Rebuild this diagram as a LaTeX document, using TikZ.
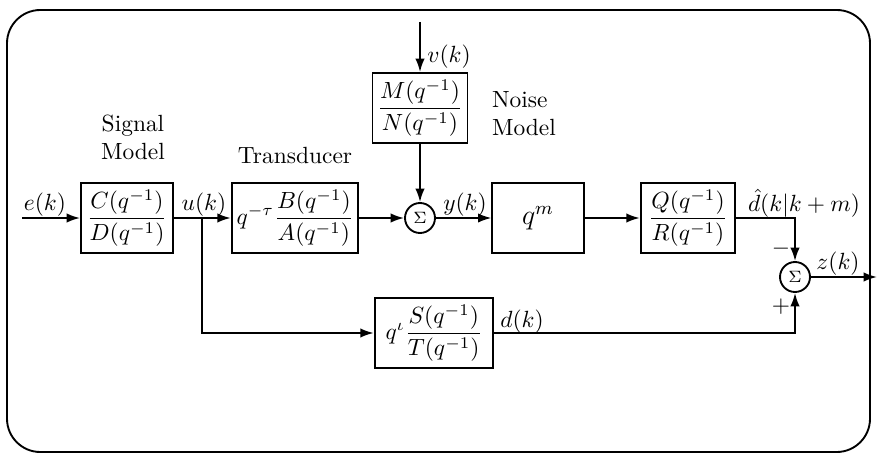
\documentclass[tikz,border=0pt]{standalone}
\usepackage{amsmath, amssymb}
\usetikzlibrary{arrows.meta, positioning, calc}

\begin{document}
\begin{tikzpicture}[x=0.015cm, y=-0.015cm, line width=0.8pt,
    blk/.style={draw, minimum height=1.05cm, inner sep=2pt},
    sumnode/.style={draw, circle, minimum size=0.45cm, inner sep=0pt},
    sig/.style={-{Latex[length=2mm, width=1.4mm]}}]
    \useasboundingbox (0,0) rectangle (877,456);
    \draw[rounded corners=0.5cm] (7,10) rectangle (870,452);
    % blocks
    \node[blk, minimum width=1.38cm] (sm) at (127,218) {$\dfrac{C(q^{-1})}{D(q^{-1})}$};
    \node[blk, minimum width=1.9cm] (td) at (295,218) {$q^{-\tau}\dfrac{B(q^{-1})}{A(q^{-1})}$};
    \node[sumnode] (s1) at (420,218) {$\scriptstyle\Sigma$};
    \node[blk, minimum width=1.35cm] (nm) at (420,108) {$\dfrac{M(q^{-1})}{N(q^{-1})}$};
    \node[blk, minimum width=1.37cm] (qm) at (538,218) {\large $q^m$};
    \node[blk, minimum width=1.42cm] (qr) at (688,218) {$\dfrac{Q(q^{-1})}{R(q^{-1})}$};
    \node[blk, minimum width=1.78cm] (st) at (434,333) {$q^{\iota}\dfrac{S(q^{-1})}{T(q^{-1})}$};
    \node[sumnode] (s2) at (795,277) {$\scriptstyle\Sigma$};
    % captions
    \node[align=center] (smcap) at (133,137) {Signal\\Model};
    \node (tdcap) at (295,155) {Transducer};
    \node[align=left] (nmcap) at (524,114) {Noise\\Model};
    % signals
    \coordinate (ein) at (22,218);
    \coordinate (br) at (202,218);
    \coordinate (vin) at (420,22);
    \coordinate (zout) at (877,277);
    \draw[sig] (ein) -- (sm);
    \draw (sm) -- (br);
    \draw[sig] (br) -- (td);
    \draw[sig] (br) |- (st);
    \draw[sig] (td) -- (s1);
    \draw[sig] (vin) -- (nm);
    \draw[sig] (nm) -- (s1);
    \draw[sig] (s1) -- (qm);
    \draw[sig] (qm) -- (qr);
    \draw[sig] (qr) -| (s2);
    \draw[sig] (st) -| (s2);
    \draw[sig] (s2) -- (zout);
    % signal labels
    \node (el) at (45,205) {$e(k)$};
    \node (ul) at (204,205) {$u(k)$};
    \node (vl) at (449,57) {$v(k)$};
    \node (yl) at (465,205) {$y(k)$};
    \node[inner sep=1pt] (dhl) at (804,203) {$\hat{d}(k|k+m)$};
    \node (zl) at (838,264) {$z(k)$};
    \node (dl) at (522,322) {$d(k)$};
    \node (mi) at (781,249) {$-$};
    \node (pl) at (781,307) {$+$};
\end{tikzpicture}
\end{document}
